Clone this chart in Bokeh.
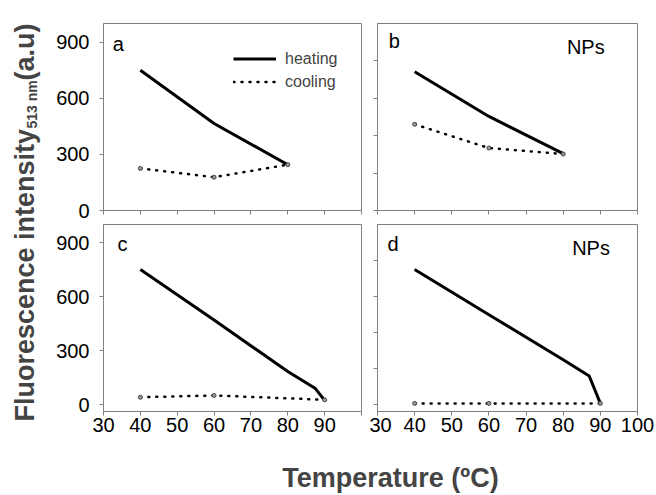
import math
from bokeh.plotting import figure
from bokeh.models import Range1d, Label, Legend, LegendItem, CustomJSTickFormatter
from bokeh.layouts import row, column
from bokeh.embed import file_html
from bokeh.resources import INLINE

# ---------------- data ----------------
x_ticks = [30, 40, 50, 60, 70, 80, 90, 100]
y_ticks_labeled = [0, 300, 600, 900]
y_ticks_plain = [0, 200, 400, 600, 800]

temp_a = [40, 60, 80]
heat_a = [750, 465, 245]
cool_a = [225, 178, 245]

temp_b = [40, 60, 80]
heat_b = [742, 503, 304]
cool_b = [461, 334, 302]

temp_c_heat = [40, 60, 80, 87.5, 90]
heat_c = [750, 470, 185, 90, 25]
temp_c_cool = [40, 60, 90]
cool_c = [42, 52, 28]

temp_d_heat = [40, 60, 80, 87, 90]
heat_d = [750, 500, 250, 160, 8]
temp_d_cool = [40, 60, 90]
cool_d = [8, 8, 8]

FONT = "Liberation Sans"
GRAY = "#808080"


def blank_axis(ax):
    ax.formatter = CustomJSTickFormatter(code="return ''")
    ax.major_label_text_font_size = "1px"
    ax.major_label_standoff = 0


def make_panel(width, height, ymin, left, right, top, bottom,
               yticks, show_x, show_y, x_overrides=None):
    p = figure(width=width, height=height,
               x_range=Range1d(30, 100), y_range=Range1d(ymin, 1000),
               output_backend="svg", toolbar_location=None,
               min_border_left=left, min_border_right=right,
               min_border_top=top, min_border_bottom=bottom)
    p.xgrid.visible = False
    p.ygrid.visible = False
    p.outline_line_color = GRAY
    p.outline_line_width = 1
    p.background_fill_color = "white"
    p.border_fill_color = "white"
    p.xaxis.ticker = x_ticks
    p.yaxis.ticker = yticks
    for ax in (p.xaxis, p.yaxis):
        ax.axis_line_color = GRAY
        ax.major_tick_line_color = GRAY
        ax.minor_tick_line_color = None
        ax.major_tick_out = 4
        ax.major_tick_in = 0
        ax.major_label_text_font = FONT
        ax.major_label_text_color = "black"
    if show_x:
        p.xaxis.major_label_text_font_size = "20px"
        p.xaxis.major_label_standoff = 2
        if x_overrides:
            p.xaxis.major_label_overrides = x_overrides
    else:
        blank_axis(p.xaxis[0])
    if show_y:
        p.yaxis.major_label_text_font_size = "20px"
        p.yaxis.major_label_standoff = 10
    else:
        blank_axis(p.yaxis[0])
    return p


def draw(p, th, h, tc, c):
    hl = p.line(th, h, line_color="black", line_width=3)
    cl = p.line(tc, c, line_color="black", line_width=2.5,
                line_dash="1 7", line_cap="round")
    p.scatter(tc, c, size=4, marker="circle",
              fill_color="#999999", line_color="#444444", line_width=1)
    return hl, cl


def tag(p, text, x, y):
    p.add_layout(Label(x=x, y=y, text=text, text_font=FONT,
                       text_font_size="20px", text_color="black",
                       text_baseline="alphabetic"))


fa = make_panel(321, 222, 0, 55, 8, 23, 12, y_ticks_labeled, False, True)
fb = make_panel(287, 222, 0, 8, 19, 23, 12, y_ticks_plain, False, False)
fc = make_panel(321, 218, -37, 55, 8, 2, 29, y_ticks_labeled, True, True,
                x_overrides={100: ""})
fd = make_panel(287, 218, -37, 8, 19, 2, 29, y_ticks_plain, True, False)

hl, cl = draw(fa, temp_a, heat_a, temp_a, cool_a)
draw(fb, temp_b, heat_b, temp_b, cool_b)
draw(fc, temp_c_heat, heat_c, temp_c_cool, cool_c)
draw(fd, temp_d_heat, heat_d, temp_d_cool, cool_d)

tag(fa, "a", 32.5, 890)
tag(fb, "b", 33.0, 905)
tag(fb, "NPs", 81.0, 872)
tag(fc, "c", 33.8, 894)
tag(fd, "d", 32.7, 894)
tag(fd, "NPs", 82.4, 872)

legend = Legend(items=[LegendItem(label="heating", renderers=[hl]),
                       LegendItem(label="cooling", renderers=[cl])],
                location=(130, 117), glyph_width=43, glyph_height=23,
                label_standoff=9, spacing=0, padding=0, margin=0,
                border_line_color=None, background_fill_alpha=0,
                label_text_font=FONT, label_text_font_size="16px")
fa.add_layout(legend)

# ---------------- y title ----------------
yfig = figure(width=48, height=440, x_range=Range1d(0, 48), y_range=Range1d(0, 440),
              output_backend="svg", toolbar_location=None,
              min_border_left=0, min_border_right=0, min_border_top=0, min_border_bottom=0)
yfig.axis.visible = False
yfig.grid.visible = False
yfig.outline_line_color = None
ang = math.pi / 2
yfig.add_layout(Label(x=24, y=19, text="Fluorescence intensity", angle=ang,
                      text_font=FONT, text_font_size="27px", text_font_style="bold",
                      text_align="left", text_baseline="alphabetic"))
yfig.add_layout(Label(x=31, y=312, text="513 nm", angle=ang,
                      text_font=FONT, text_font_size="14px", text_font_style="bold",
                      text_align="left", text_baseline="alphabetic"))
yfig.add_layout(Label(x=24, y=360, text=" (a.u)", angle=ang,
                      text_font=FONT, text_font_size="27px", text_font_style="bold",
                      text_align="left", text_baseline="alphabetic"))

# ---------------- x title ----------------
xfig = figure(width=656, height=55, x_range=Range1d(0, 656), y_range=Range1d(0, 55),
              output_backend="svg", toolbar_location=None,
              min_border_left=0, min_border_right=0, min_border_top=0, min_border_bottom=0)
xfig.axis.visible = False
xfig.grid.visible = False
xfig.outline_line_color = None
xfig.add_layout(Label(x=390, y=18, text="Temperature (ºC)",
                      text_font=FONT, text_font_size="27px", text_font_style="bold",
                      text_align="center", text_baseline="alphabetic"))

layout = column(row(yfig, column(row(fa, fb), row(fc, fd))), xfig)

with open("out.html", "w") as f:
    f.write(file_html(layout, INLINE))
